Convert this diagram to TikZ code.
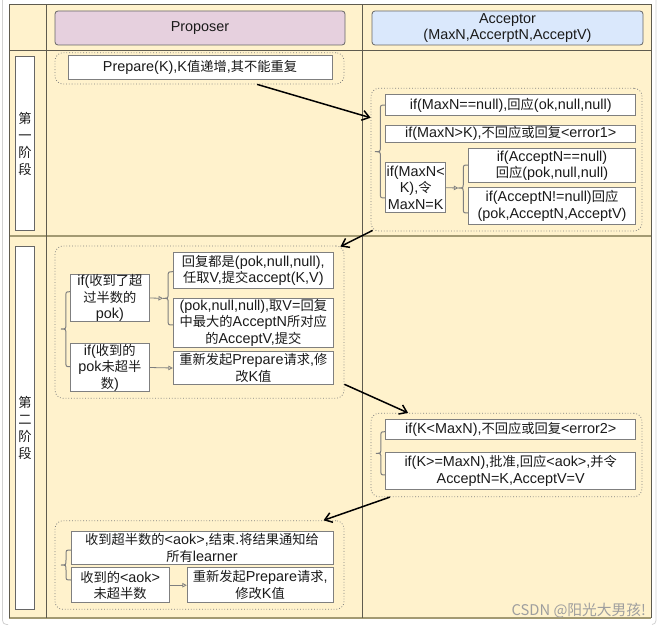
\documentclass[tikz,border=0pt]{standalone}
\usepackage{fontspec}
\setmainfont{Liberation Sans}
\newfontfamily\cjk{Noto Sans CJK SC}[Scale=0.92]
\newcommand\zh[1]{{\cjk #1}}
\usetikzlibrary{arrows.meta,calc}
\definecolor{lanebg}{HTML}{FFF2CC}
\definecolor{laneline}{HTML}{5F5B4E}
\definecolor{rowline}{HTML}{A39A72}
\definecolor{propfill}{HTML}{E6D0DE}
\definecolor{accfill}{HTML}{DAE8FC}
\definecolor{boxline}{HTML}{7F7F7F}
\definecolor{hdrline}{HTML}{666666}
\definecolor{txt}{HTML}{1A1A1A}
\tikzset{
  txtfont/.style={font=\fontsize{14.4}{16.5}\selectfont},
  box/.style={draw=boxline, fill=white, line width=1pt, inner sep=0pt, align=center, text=txt, txtfont},
  hdr/.style={draw=hdrline, line width=0.8pt, rounded corners=3pt, inner sep=0pt, align=center, text=txt, txtfont},
  phase/.style={draw=hdrline, fill=white, line width=0.8pt, inner sep=0pt, align=center, text=txt, font=\fontsize{14.4}{17}\selectfont},
  grp/.style={draw=boxline, dotted, rounded corners=8pt, line width=0.8pt, inner sep=0pt},
  flow/.style={-{Straight Barb[length=7pt,width=10pt]}, line width=1.5pt, black},
  tinyarrow/.style={-{Triangle[open,length=4.5pt,width=4.5pt]}, draw=boxline, line width=0.8pt},
  bracestyle/.style={draw=boxline, line width=1pt},
}
% \bx{name}{style}{x1}{y1}{x2}{y2}{text}
\newcommand\bx[7]{%
  \node[#2, minimum width={#5-#3}, minimum height={#6-#4}] (#1) at ({(#3+#5)/2},{(#4+#6)/2}) {#7};
}
% name, xtip, xend, ytop, ymid, ybot
\newcommand\curly[6]{%
  \coordinate (#1) at (#2,#5);
  \draw[bracestyle] (#3,#4) .. controls ({(#2+#3)/2},#4) .. ({(#2+#3)/2},{#4+5})
    -- ({(#2+#3)/2},{#5-5}) .. controls ({(#2+#3)/2},#5) .. (#2,#5)
    .. controls ({(#2+#3)/2},#5) .. ({(#2+#3)/2},{#5+5})
    -- ({(#2+#3)/2},{#6-5}) .. controls ({(#2+#3)/2},#6) .. (#3,#6);
}
\begin{document}
\begin{tikzpicture}[x=1pt,y=-1pt]
\useasboundingbox (0,0) rectangle (660,626);
% faint screenshot border
\draw[draw=black!18, line width=0.8pt, rounded corners=4pt] (2.5,-10) -- (2.5,624.5) -- (8,624.5);
\draw[draw=black!18, line width=0.8pt, rounded corners=4pt] (656,-10) -- (656,624.5) -- (652,624.5);
% lanes
\fill[lanebg] (9,4.5) rectangle (651,618);
\draw[rowline, line width=1.5pt] (9,236) -- (651,236);
\draw[rowline, line width=1.5pt] (9,618) -- (651,618);
\draw[laneline, line width=1pt] (9,51) -- (651,51);
\draw[laneline, line width=1pt] (46,4.5) -- (46,618);
\draw[laneline, line width=1pt] (362,4.5) -- (362,618);
\draw[laneline, line width=1pt] (9,618) -- (9,4.5) -- (651,4.5) -- (651,618);
% headers
\bx{hp}{hdr, fill=propfill}{55}{11}{345}{45}{Proposer}
\bx{ha}{hdr, fill=accfill}{372}{11}{643}{45}{Acceptor\\(MaxN,AccerptN,AcceptV)}
% phase labels
\bx{ph1}{phase}{15.7}{56.7}{34.3}{230.7}{\zh{第}\\\zh{一}\\\zh{阶}\\\zh{段}}
\bx{ph2}{phase}{15.7}{246.7}{34.3}{609.3}{\zh{第}\\\zh{二}\\\zh{阶}\\\zh{段}}
% groups
\bx{g1p}{grp}{55}{52.7}{344}{84}{}
\bx{g1a}{grp}{371}{88.3}{642}{231}{}
\bx{g2p}{grp}{55}{246}{344}{398.3}{}
\bx{g2a}{grp}{371}{413.3}{642}{496.7}{}
\bx{g3p}{grp}{55}{520.7}{344}{609.3}{}
% phase 1 proposer
\bx{prep}{box}{68}{55.3}{332}{79}{Prepare(K),K\zh{值递增},\zh{其不能重复}}
% phase 1 acceptor
\bx{a1}{box}{385.7}{94.3}{635.7}{115.7}{if(MaxN==null),\zh{回应}(ok,null,null)}
\bx{a2}{box}{385.7}{125}{635.7}{142.7}{if(MaxN>K),\zh{不回应或回复}<error1>}
\bx{a3}{box}{385.7}{162.7}{445.7}{212.7}{if(MaxN<\\K),\zh{令}\\MaxN=K}
\bx{a4}{box}{468.3}{148.7}{635.7}{182.7}{if(AcceptN==null)\\\zh{回应}(pok,null,null)}
\bx{a5}{box}{468.3}{187.3}{635.7}{224}{if(AcceptN!=null)\zh{回应}\\(pok,AcceptN,AcceptV)}
\curly{bA}{375}{385.7}{105}{151.7}{198}
\curly{bB}{458.3}{468.3}{165}{188}{213}
\draw[tinyarrow] (a3.east) -- (bB);
% phase 2 proposer
\bx{p1}{box}{70.7}{274.3}{149}{321.7}{if(\zh{收到了超}\\\zh{过半数的}\\pok)}
\bx{p2}{box}{70.7}{343.3}{149}{391.7}{if(\zh{收到的}\\pok\zh{未超半}\\\zh{数})}
\bx{p3}{box}{173.3}{252.7}{333.3}{288.3}{\zh{回复都是}(pok,null,null),\\\zh{任取}V,\zh{提交}accept(K,V)}
\bx{p4}{box}{173.3}{298.3}{333.3}{347.3}{(pok,null,null),\zh{取}V=\zh{回复}\\\zh{中最大的}AcceptN\zh{所对应}\\\zh{的}AcceptV,\zh{提交}}
\bx{p5}{box}{173.3}{351.7}{333.3}{384.3}{\zh{重新发起}Prepare\zh{请求},\zh{修}\\\zh{改}K\zh{值}}
\curly{bC}{61}{70.7}{291.7}{329}{366.7}
\curly{bD}{163}{173.3}{271.7}{298.3}{325}
\draw[tinyarrow] (p1.east) -- (bD);
\draw[tinyarrow] (p2.east) -- (p5.west);
% phase 2 acceptor
\bx{b1}{box}{385.7}{419.3}{635.7}{439.3}{if(K<MaxN),\zh{不回应或回复}<error2>}
\bx{b2}{box}{385.7}{452.7}{635.7}{489.3}{if(K>=MaxN),\zh{批准},\zh{回应}<aok>,\zh{并令}\\AcceptN=K,AcceptV=V}
\curly{bE}{376}{385.7}{431.7}{453.3}{475}
% phase 3 proposer
\bx{c1}{box}{71}{531.7}{333}{564}{\zh{收到超半数的}<aok>,\zh{结束}.\zh{将结果通知给}\\\zh{所有}learner}
\bx{c2}{box}{71}{567.7}{169.3}{602.7}{\zh{收到的}<aok>\\\zh{未超半数}}
\bx{c3}{box}{187.3}{567.7}{333}{602.7}{\zh{重新发起}Prepare\zh{请求},\\\zh{修改}K\zh{值}}
\curly{bF}{61}{71}{550}{565}{580}
\draw[tinyarrow] (c2.east) -- (c3.west);
% main flow arrows
\draw[flow] ($(g1p.south west)!0.699!(g1p.south east)$) -- ($(g1a.north west)!0.208!(g1a.south west)$);
\draw[flow] ($(g1a.south west)+(2,-1)$) -- ($(g2p.north east)+(-4,1)$);
\draw[flow] ($(g2p.north east)!0.906!(g2p.south east)$) -- ($(g2a.north west)!0.138!(g2a.north east)$);
\draw[flow] ($(g2a.south west)!0.071!(g2a.south east)$) -- ($(g3p.north west)!0.928!(g3p.north east)$);
% watermark
\node[anchor=base east, text=black!38, font=\fontsize{16}{16}\selectfont\cjk, inner sep=0pt] (wm) at (646,615) {CSDN @阳光大男孩!};
\end{tikzpicture}
\end{document}
